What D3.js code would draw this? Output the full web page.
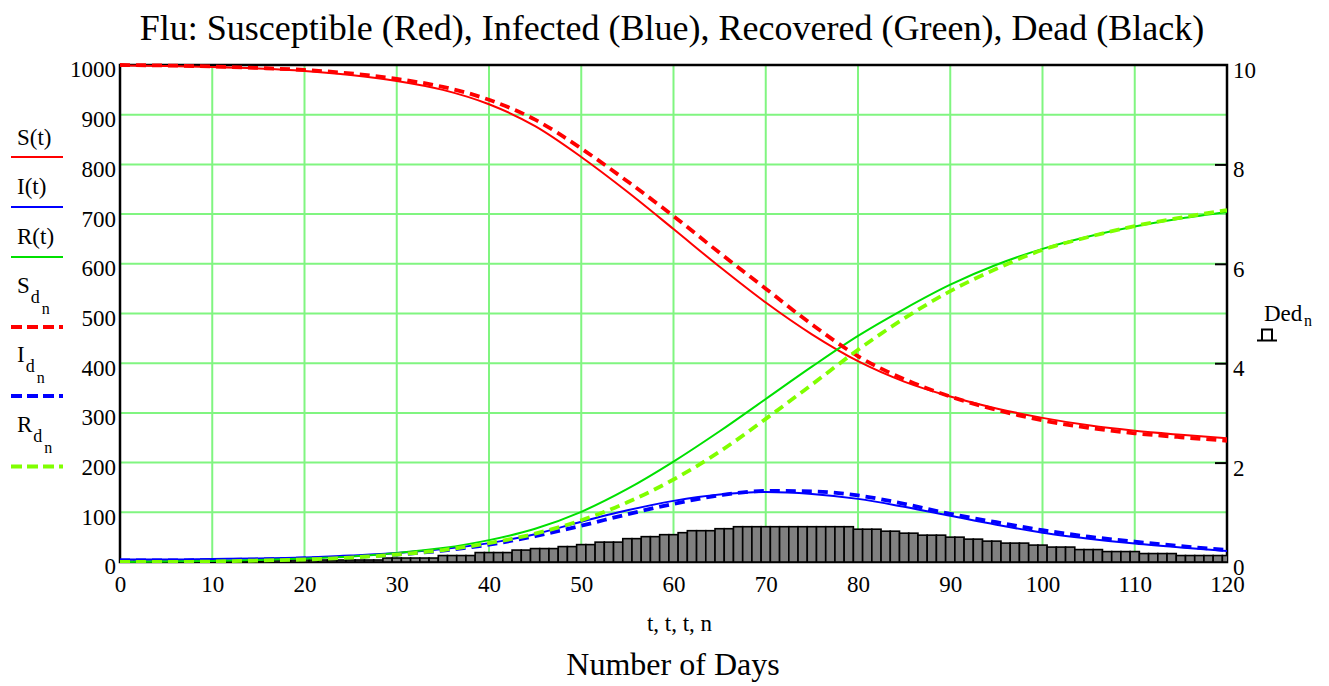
<!DOCTYPE html>
<html>
<head>
<meta charset="utf-8">
<script src="https://cdn.jsdelivr.net/npm/d3@7"></script>
<style>
  body { margin: 0; background: #fff; }
  svg { display: block; font-family: "Liberation Serif", "Times New Roman", serif; }
  svg text { font-family: "Liberation Serif", "Times New Roman", serif; }
</style>
</head>
<body>
<svg id="chart" width="1329" height="686"></svg>
<script>
// Sample days for the smooth model curves
const days = [0, 5, 10, 15, 20, 25, 30, 35, 40, 45, 50, 55, 60, 65, 70, 75, 80, 85, 90, 95, 100, 105, 110, 115, 120];

// Continuous model S(t), I(t), R(t)
const susceptible = [999, 998, 996, 993, 988, 980, 968, 950, 921, 877, 815, 745, 670, 594, 522, 458, 404, 363, 333, 309, 290, 275, 264, 256, 249];
const infected    = [5, 5, 6, 7, 9, 13, 18, 26, 38, 56, 81, 104, 123, 136, 141, 137, 127, 111, 93, 75, 59, 47, 37, 29, 22];
const recovered   = [0, 1, 2, 4, 7, 11, 18, 28, 44, 67, 101, 147, 202, 263, 328, 393, 455, 509, 558, 598, 630, 655, 675, 691, 704];

// Day-by-day difference model S_d, I_d, R_d
const susceptibleD = [1000, 999, 997, 994, 990, 983, 972, 956, 930, 890, 832, 766, 696, 622, 550, 478, 414, 368, 333, 306, 285, 270, 259, 251, 244];
const infectedD    = [3, 3, 4, 5, 7, 10, 15, 23, 35, 52, 73, 96, 117, 134, 143, 142, 134, 117, 97, 80, 64, 51, 41, 32, 24];
const recoveredD   = [0, 0, 1, 3, 5, 9, 15, 24, 38, 57, 84, 120, 166, 222, 288, 357, 427, 490, 545, 590, 628, 654, 676, 693, 708];

// Deaths per day, n = 0..120 (right axis)
const deadPerDay = [
  0.01, 0.01, 0.01, 0.01, 0.01, 0.01, 0.01, 0.01, 0.01, 0.01, 0.01, 0.01, 0.01, 0.01, 0.01, 0.01,
  0.04, 0.04, 0.04, 0.04, 0.04, 0.04, 0.04, 0.04, 0.04, 0.04, 0.04, 0.04, 0.04,
  0.08, 0.08, 0.08, 0.08, 0.08, 0.08,
  0.13, 0.13, 0.13, 0.13,
  0.19, 0.19, 0.19, 0.19,
  0.24, 0.24,
  0.27, 0.27, 0.27,
  0.31, 0.31,
  0.35, 0.35,
  0.40, 0.40, 0.40,
  0.47, 0.47,
  0.51, 0.51,
  0.55, 0.55,
  0.59,
  0.63, 0.63, 0.63,
  0.67, 0.67,
  0.71, 0.71, 0.71, 0.71, 0.71, 0.71, 0.71, 0.71, 0.71, 0.71, 0.71, 0.71, 0.71,
  0.66, 0.66, 0.66,
  0.62, 0.62,
  0.58, 0.58,
  0.54, 0.54, 0.54,
  0.50, 0.50,
  0.46, 0.46,
  0.42, 0.42,
  0.38, 0.38, 0.38,
  0.34, 0.34,
  0.30, 0.30, 0.30,
  0.25, 0.25, 0.25,
  0.21, 0.21, 0.21, 0.21,
  0.17, 0.17, 0.17, 0.17,
  0.13, 0.13, 0.13, 0.13, 0.13, 0.13
];

// Tick labels
const xTicks = [0, 10, 20, 30, 40, 50, 60, 70, 80, 90, 100, 110, 120];
const yLeftTicks = [0, 100, 200, 300, 400, 500, 600, 700, 800, 900, 1000];
const yRightTicks = [0, 2, 4, 6, 8, 10];

const svg = d3.select("#chart");
const plotL = 120, plotR = 1227, plotT = 65, plotB = 562;

const x = d3.scaleLinear().domain([0, 120]).range([plotL, plotR]);
const yL = d3.scaleLinear().domain([0, 1000]).range([plotB, plotT]);
const yR = d3.scaleLinear().domain([0, 10]).range([plotB, plotT]);

const GRID = "#80f580";
const SERIF = "'Liberation Serif', 'Times New Roman', serif";
const tickFont = 23;
const fmt = d3.format("d");

// Title
svg.append("text")
  .attr("x", 672).attr("y", 40)
  .attr("text-anchor", "middle")
  .attr("font-size", 36)
  .text("Flu: Susceptible (Red), Infected (Blue), Recovered (Green), Dead (Black)");

// Grid lines
const grid = svg.append("g");
grid.selectAll("line.v")
  .data(xTicks.filter(d => d > 0 && d < 120))
  .join("line")
  .attr("class", "v")
  .attr("x1", d => x(d)).attr("x2", d => x(d))
  .attr("y1", plotT).attr("y2", plotB)
  .attr("stroke", GRID).attr("stroke-width", 2);
grid.selectAll("line.h")
  .data(yLeftTicks.filter(d => d > 0 && d < 1000))
  .join("line")
  .attr("class", "h")
  .attr("x1", plotL).attr("x2", plotR)
  .attr("y1", d => yL(d)).attr("y2", d => yL(d))
  .attr("stroke", GRID).attr("stroke-width", 2);

// Right-axis tick marks at even values
svg.append("g")
  .attr("transform", `translate(${plotR},0)`)
  .call(d3.axisLeft(yR).tickValues([2, 4, 6, 8]).tickSize(12).tickFormat(""))
  .call(g => g.select(".domain").remove())
  .call(g => g.selectAll("line").attr("stroke", "#000").attr("stroke-width", 2));

// Frame
svg.append("rect")
  .attr("x", plotL).attr("y", plotT)
  .attr("width", plotR - plotL).attr("height", plotB - plotT)
  .attr("fill", "none").attr("stroke", "#000").attr("stroke-width", 2.5);

// Clip region for plotted marks
svg.append("clipPath").attr("id", "plotClip")
  .append("rect").attr("x", plotL).attr("y", plotT - 3)
  .attr("width", plotR - plotL).attr("height", plotB - plotT + 4);

function styleLabels(g, dy) {
  g.select(".domain").remove();
  g.attr("font-family", null).attr("font-size", null);
  const t = g.selectAll("text")
    .style("font-family", SERIF)
    .style("font-size", tickFont + "px")
    .attr("fill", "#000");
  if (dy) t.attr("dy", dy);
}

// Left axis labels
svg.append("g")
  .attr("transform", `translate(${plotL},0)`)
  .call(d3.axisLeft(yL).tickValues(yLeftTicks).tickFormat(fmt).tickSize(0).tickPadding(4))
  .call(g => styleLabels(g, "0.52em"));

// Right axis labels
svg.append("g")
  .attr("transform", `translate(${plotR},0)`)
  .call(d3.axisRight(yR).tickValues(yRightTicks).tickFormat(fmt).tickSize(0).tickPadding(6))
  .call(g => styleLabels(g, "0.54em"));

// Bottom axis labels
svg.append("g")
  .attr("transform", `translate(0,${plotB})`)
  .call(d3.axisBottom(x).tickValues(xTicks).tickFormat(fmt).tickSize(0).tickPadding(14))
  .call(g => styleLabels(g, null));

// Deaths per day as bars on the right axis
const plot = svg.append("g").attr("clip-path", "url(#plotClip)");
const barW = x(1) - x(0);
plot.append("g").selectAll("rect")
  .data(deadPerDay)
  .join("rect")
  .attr("x", (d, i) => x(i) - barW / 2)
  .attr("width", barW)
  .attr("y", d => yR(d))
  .attr("height", d => yR(0) - yR(d))
  .attr("fill", "#808080")
  .attr("stroke", "#000")
  .attr("stroke-width", 1.6);

// Model curves
const line = d3.line()
  .x((d, i) => x(days[i]))
  .y(d => yL(d))
  .curve(d3.curveMonotoneX);

const series = [
  { values: susceptible,  color: "#ff0000", width: 2,   dash: null },
  { values: infected,     color: "#0000ff", width: 2,   dash: null },
  { values: recovered,    color: "#00e000", width: 2,   dash: null },
  { values: susceptibleD, color: "#ff0000", width: 3.8, dash: "10,6" },
  { values: infectedD,    color: "#0000ff", width: 3.8, dash: "10,6" },
  { values: recoveredD,   color: "#80ff00", width: 3.8, dash: "10,6" }
];

plot.append("g").selectAll("path")
  .data(series)
  .join("path")
  .attr("d", s => line(s.values))
  .attr("fill", "none")
  .attr("stroke", s => s.color)
  .attr("stroke-width", s => s.width)
  .attr("stroke-dasharray", s => s.dash);

// Legend on the left
const legend = svg.append("g").attr("font-size", 23);
const legendItems = [
  { name: "S", sub: "(t)", textY: 145,   lineY: 157, color: "#ff0000", width: 2,   dash: null },
  { name: "I", sub: "(t)", textY: 194,   lineY: 207, color: "#0000ff", width: 2,   dash: null },
  { name: "R", sub: "(t)", textY: 244,   lineY: 257, color: "#00e000", width: 2,   dash: null },
  { name: "S", sub: "d",   textY: 292.5, lineY: 327, color: "#ff0000", width: 3.8, dash: "11,5" },
  { name: "I", sub: "d",   textY: 361.5, lineY: 396, color: "#0000ff", width: 3.8, dash: "11,5" },
  { name: "R", sub: "d",   textY: 431.5, lineY: 466.5, color: "#80ff00", width: 3.8, dash: "11,5" }
];
legendItems.forEach(item => {
  if (item.sub === "(t)") {
    legend.append("text").attr("x", 17).attr("y", item.textY).text(item.name + "(t)");
  } else {
    const t = legend.append("text").attr("x", 17).attr("y", item.textY).text(item.name);
    const w = t.node().getComputedTextLength();
    legend.append("text").attr("x", 17 + w + 1).attr("y", item.textY + 10.5)
      .attr("font-size", 18).text("d");
    legend.append("text").attr("x", 17 + w + 12).attr("y", item.textY + 21.5)
      .attr("font-size", 16).text("n");
  }
  legend.append("line")
    .attr("x1", 11).attr("x2", 63)
    .attr("y1", item.lineY).attr("y2", item.lineY)
    .attr("stroke", item.color)
    .attr("stroke-width", item.width)
    .attr("stroke-dasharray", item.dash);
});

// Right-side legend for the bars
svg.append("text").attr("x", 1264).attr("y", 320.5).attr("font-size", 23).text("Ded");
svg.append("text").attr("x", 1304).attr("y", 326).attr("font-size", 16).text("n");
svg.append("path")
  .attr("d", "M1257,340.5 H1277 M1262,340.5 V329.5 H1272 V340.5")
  .attr("fill", "none").attr("stroke", "#000").attr("stroke-width", 2);

// Axis titles
svg.append("text").attr("x", 679.5).attr("y", 630.5)
  .attr("text-anchor", "middle").attr("font-size", 23).text("t, t, t, n");
svg.append("text").attr("x", 673).attr("y", 675)
  .attr("text-anchor", "middle").attr("font-size", 32).text("Number of Days");
</script>
</body>
</html>
